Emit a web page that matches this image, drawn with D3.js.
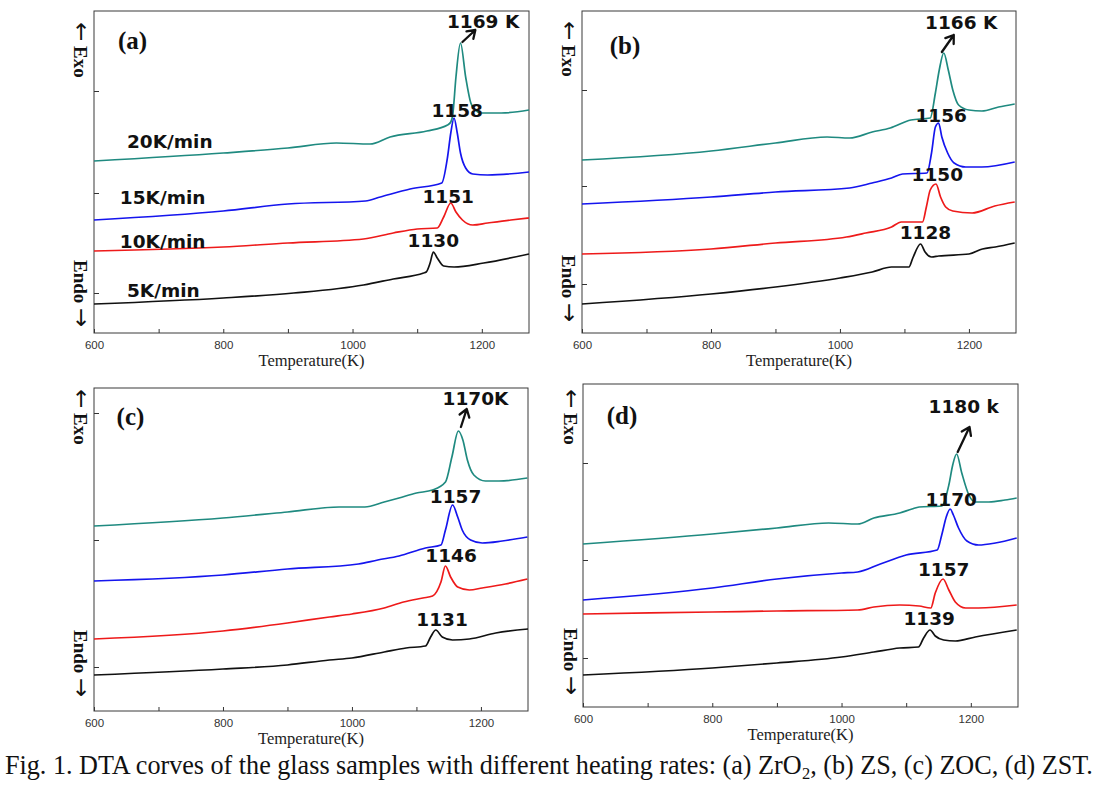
<!DOCTYPE html>
<html>
<head>
<meta charset="utf-8">
<script src="https://cdn.jsdelivr.net/npm/d3@7"></script>
<style>
  body { margin: 0; background: #fff; }
</style>
</head>
<body>
<div id="vizArea"></div>
<script>
// heating rates, bottom trace to top trace
var rates = ["5K/min", "10K/min", "15K/min", "20K/min"];
var xTicks = [600, 800, 1000, 1200];
var xMinor = [700, 900, 1100];

// DTA traces: [temperature (K), signal (a.u.)]
// (a) ZrO2
var a5  = [[600,2.9],[800,3.5],[909,4.0],[1017,4.8],[1063,5.4],[1110,6.0],[1114,6.1],[1120,7.0],[1125,8.1],[1131,7.5],[1141,6.7],[1157,6.6],[1203,7.0],[1273,7.9]];
var a10 = [[600,8.2],[800,8.6],[900,9.0],[1017,9.4],[1063,10.0],[1100,10.4],[1131,10.5],[1141,11.6],[1152,13.0],[1160,12.1],[1170,11.3],[1186,10.8],[1209,11.0],[1245,11.3],[1273,11.5]];
var a15 = [[600,11.3],[800,12.2],[900,12.9],[1020,13.2],[1043,13.6],[1089,14.4],[1138,15.0],[1147,17.6],[1152,20.0],[1157,21.5],[1162,20.0],[1167,18.0],[1175,16.5],[1186,15.9],[1209,15.8],[1273,16.1]];
var a20 = [[600,17.2],[800,18.0],[900,18.5],[975,19.0],[1027,18.9],[1058,19.6],[1115,20.2],[1147,20.8],[1152,21.1],[1155,21.8],[1160,25.6],[1167,29.0],[1175,25.6],[1183,23.0],[1190,22.3],[1198,22.0],[1230,22.0],[1273,22.3]];
// (b) ZS
var b5  = [[600,2.9],[800,3.9],[900,4.6],[1000,5.5],[1050,6.1],[1080,6.6],[1107,6.6],[1113,7.5],[1125,8.9],[1132,8.1],[1142,7.6],[1153,7.7],[1200,7.9],[1221,8.4],[1241,8.6],[1271,9.0]];
var b10 = [[600,7.9],[800,8.4],[900,9.0],[1010,9.6],[1040,10.0],[1080,10.6],[1095,11.1],[1128,11.1],[1134,12.6],[1140,14.3],[1149,14.9],[1156,13.6],[1164,12.6],[1175,12.2],[1205,12.0],[1240,12.7],[1271,13.1]];
var b15 = [[600,12.9],[800,13.6],[900,14.1],[1015,14.5],[1050,15.0],[1080,15.5],[1097,15.9],[1135,16.0],[1142,18.0],[1148,20.6],[1153,21.0],[1158,19.6],[1167,18.0],[1177,17.0],[1195,16.6],[1220,16.6],[1271,17.1]];
var b20 = [[600,17.3],[800,18.2],[900,19.0],[980,19.6],[1015,19.5],[1050,20.1],[1078,20.5],[1110,21.3],[1140,21.5],[1148,24.0],[1154,26.3],[1161,28.0],[1168,26.3],[1175,24.3],[1184,22.8],[1200,22.3],[1220,22.2],[1246,22.6],[1271,22.9]];
// (c) ZOC
var c5  = [[600,3.6],[800,4.2],[900,4.6],[965,5.1],[1000,5.3],[1050,5.9],[1084,6.3],[1114,6.5],[1122,7.4],[1130,8.1],[1140,7.4],[1156,7.1],[1182,7.2],[1223,7.8],[1273,8.2]];
var c10 = [[600,7.2],[800,8.0],[900,8.8],[965,9.4],[1000,9.7],[1050,10.3],[1080,10.9],[1110,11.3],[1125,11.5],[1138,12.9],[1145,14.5],[1153,13.4],[1164,12.4],[1182,12.1],[1202,12.3],[1238,12.7],[1272,13.2]];
var c15 = [[600,13.0],[800,13.6],[900,14.2],[1010,14.7],[1040,15.1],[1073,15.5],[1114,16.3],[1138,16.6],[1145,18.1],[1156,20.6],[1164,19.4],[1171,18.1],[1184,17.1],[1202,16.8],[1233,17.0],[1272,17.4]];
var c20 = [[600,18.5],[800,19.3],[900,19.9],[980,20.4],[1020,20.4],[1050,20.9],[1073,21.3],[1100,21.8],[1125,22.1],[1145,22.9],[1155,25.4],[1165,28.0],[1172,27.1],[1179,25.1],[1189,23.6],[1207,23.0],[1228,23.0],[1272,23.3]];
// (d) ZST
var d5  = [[600,3.2],[800,3.9],[900,4.4],[1000,5.0],[1050,5.5],[1090,5.9],[1119,6.0],[1127,6.9],[1137,7.7],[1145,7.1],[1158,6.7],[1176,6.6],[1207,7.0],[1271,7.7]];
var d10 = [[600,9.3],[800,9.5],[900,9.6],[1025,9.7],[1050,10.0],[1090,10.2],[1120,10.1],[1138,9.9],[1145,11.4],[1157,12.8],[1166,11.7],[1176,10.5],[1192,9.9],[1212,9.9],[1271,10.2]];
var d15 = [[600,10.7],[800,11.9],[900,12.8],[1000,13.4],[1025,13.5],[1060,14.3],[1100,15.2],[1148,15.7],[1155,17.2],[1162,19.0],[1168,19.8],[1173,19.2],[1181,17.9],[1194,16.6],[1212,16.2],[1238,16.4],[1271,16.9]];
var d20 = [[600,16.3],[800,17.3],[900,17.9],[980,18.4],[1025,18.3],[1050,18.9],[1090,19.4],[1109,19.8],[1120,20.0],[1155,20.1],[1166,22.2],[1172,24.2],[1178,25.3],[1186,23.4],[1197,21.2],[1207,20.5],[1228,20.5],[1253,20.7],[1271,20.9]];

// crystallization peak labels, 5 -> 20 K/min
var peaksA = ["1130", "1151", "1158", "1169 K"];
var peaksB = ["1128", "1150", "1156", "1166 K"];
var peaksC = ["1131", "1146", "1157", "1170K"];
var peaksD = ["1139", "1157", "1170", "1180 k"];

var colors = ["#111111", "#ee1a1a", "#1515ee", "#1f8a80"];

// layout: frame box, y ticks and label anchors (in data units)
var panels = [
  { tag: "(a)", box: [94, 11, 529, 333], yMax: 32.2, yTicks: [4.0, 14.0, 24.2],
    series: [a5, a10, a15, a20], peaks: peaksA,
    peakPos: [[1125, 8.6], [1148, 13.0], [1162, 21.6], [1202, 30.5]],
    arrow: [[1170, 29.1], [1190, 30.3]], tagPos: [637, 28.4],
    exoX: 74, exoY: 22, endoY: 260,
    ratePos: [[651, 3.6], [640, 8.5], [640, 12.9], [651, 18.5]] },
  { tag: "(b)", box: [582, 11, 1016, 333], yMax: 32.2, yTicks: [4.9, 14.7, 24.3],
    series: [b5, b10, b15, b20], peaks: peaksB,
    peakPos: [[1132.5, 9.4], [1151, 15.2], [1157, 21.1], [1188, 30.4]],
    arrow: [[1158, 28.1], [1176.5, 29.8]], tagPos: [643, 27.9],
    exoX: 562, exoY: 21, endoY: 255 },
  { tag: "(c)", box: [94, 388, 528, 711], yMax: 32.3, yTicks: [4.4, 17.1, 29.8],
    series: [c5, c10, c15, c20], peaks: peaksC,
    peakPos: [[1139.8, 8.5], [1153.7, 14.9], [1160.7, 20.8], [1191.6, 30.6]],
    arrow: [[1169, 28.4], [1178, 30.2]], tagPos: [635, 28.6],
    exoX: 74, exoY: 389, endoY: 630 },
  { tag: "(d)", box: [583, 384, 1018, 707], yMax: 32.3, yTicks: [4.9, 14.7, 24.4],
    series: [d5, d10, d15, d20], peaks: peaksD,
    peakPos: [[1135.7, 8.2], [1158, 13.1], [1169.7, 20.1], [1189, 29.4]],
    arrow: [[1179.7, 25.5], [1198, 28.0]], tagPos: [636.6, 28.3],
    exoX: 564, exoY: 389, endoY: 628 }
];

var svg = d3.select("#vizArea")
  .append("svg")
    .attr("width", 1100)
    .attr("height", 792)
    .style("display", "block");

svg.append("rect")
  .attr("width", 1100)
  .attr("height", 792)
  .attr("fill", "white");

panels.forEach(function (p) {
  var l = p.box[0], t = p.box[1], r = p.box[2], b = p.box[3];
  var x = d3.scaleLinear().domain([600, 1273]).range([l, r]);
  var y = d3.scaleLinear().domain([0, p.yMax]).range([b, t]);
  var g = svg.append("g");

  // axes, ticks pointing inward
  var xa = g.append("g").attr("transform", "translate(0," + b + ")")
    .call(d3.axisBottom(x).tickValues(xTicks).tickSize(-4).tickPadding(8).tickFormat(d3.format("d")));
  var xm = g.append("g").attr("transform", "translate(0," + b + ")")
    .call(d3.axisBottom(x).tickValues(xMinor).tickSize(-4).tickFormat(""));
  var ya = g.append("g").attr("transform", "translate(" + l + ",0)")
    .call(d3.axisLeft(y).tickValues(p.yTicks).tickSize(-5).tickFormat(""));
  [xa, xm, ya].forEach(function (a) {
    a.select(".domain").remove();
    a.selectAll("line").attr("stroke", "#333");
  });
  xa.selectAll("text")
    .attr("font-family", "Liberation Sans, Arial, sans-serif")
    .attr("font-size", 11.5)
    .attr("fill", "#333");

  g.append("rect")
    .attr("x", l).attr("y", t)
    .attr("width", r - l).attr("height", b - t)
    .attr("fill", "none")
    .attr("stroke", "#3a3a3a")
    .attr("stroke-width", 1);

  g.append("text")
    .attr("x", (l + r) / 2).attr("y", b + 33)
    .attr("text-anchor", "middle")
    .attr("font-family", "Liberation Serif, Times New Roman, serif")
    .attr("font-size", 16.5)
    .attr("fill", "#222")
    .text("Temperature(K)");

  // traces
  var line = d3.line()
    .x(function (d) { return x(d[0]); })
    .y(function (d) { return y(d[1]); })
    .curve(d3.curveMonotoneX);
  p.series.forEach(function (s, i) {
    g.append("path")
      .datum(s)
      .attr("d", line)
      .attr("fill", "none")
      .attr("stroke", colors[i])
      .attr("stroke-width", 1.7)
      .attr("stroke-linejoin", "round");
  });

  // peak temperatures
  p.peaks.forEach(function (txt, i) {
    g.append("text")
      .attr("x", x(p.peakPos[i][0])).attr("y", y(p.peakPos[i][1]))
      .attr("text-anchor", "middle")
      .attr("font-family", "DejaVu Sans, Verdana, sans-serif")
      .attr("font-weight", "bold")
      .attr("font-size", 18.5)
      .attr("fill", "#111")
      .text(txt);
  });

  // arrow pointing at the top label
  var x0 = x(p.arrow[0][0]), y0 = y(p.arrow[0][1]);
  var x1 = x(p.arrow[1][0]), y1 = y(p.arrow[1][1]);
  var ang = Math.atan2(y1 - y0, x1 - x0);
  var hl = 9, hw = 0.6;
  g.append("path")
    .attr("d", "M" + x0 + "," + y0 + "L" + x1 + "," + y1 +
      "M" + (x1 - hl * Math.cos(ang - hw)) + "," + (y1 - hl * Math.sin(ang - hw)) +
      "L" + x1 + "," + y1 +
      "L" + (x1 - hl * Math.cos(ang + hw)) + "," + (y1 - hl * Math.sin(ang + hw)))
    .attr("fill", "none")
    .attr("stroke", "#111")
    .attr("stroke-width", 2.3)
    .attr("stroke-linecap", "round")
    .attr("stroke-linejoin", "round");

  // panel tag
  g.append("text")
    .attr("x", x(p.tagPos[0])).attr("y", y(p.tagPos[1]))
    .attr("font-family", "Liberation Serif, Times New Roman, serif")
    .attr("font-weight", "bold")
    .attr("font-size", 25)
    .attr("fill", "#111")
    .text(p.tag);

  // Exo / Endo, rotated so the arrows point up and down
  var exo = g.append("text")
    .attr("transform", "translate(" + p.exoX + "," + p.exoY + ") rotate(90)")
    .attr("font-family", "Liberation Serif, Times New Roman, serif")
    .attr("font-weight", "bold")
    .attr("font-size", 19)
    .attr("fill", "#111");
  exo.append("tspan").attr("font-family", "DejaVu Sans").attr("font-weight", "normal")
    .attr("font-size", 23).text("\u2190");
  exo.append("tspan").text(" Exo");

  var endo = g.append("text")
    .attr("transform", "translate(" + p.exoX + "," + p.endoY + ") rotate(90)")
    .attr("font-family", "Liberation Serif, Times New Roman, serif")
    .attr("font-weight", "bold")
    .attr("font-size", 19)
    .attr("fill", "#111");
  endo.append("tspan").text("Endo ");
  endo.append("tspan").attr("font-family", "DejaVu Sans").attr("font-weight", "normal")
    .attr("font-size", 23).text("\u2192");

  // heating-rate labels
  if (p.ratePos) {
    rates.forEach(function (rt, i) {
      g.append("text")
        .attr("x", x(p.ratePos[i][0])).attr("y", y(p.ratePos[i][1]))
        .attr("font-family", "DejaVu Sans, Verdana, sans-serif")
        .attr("font-weight", "bold")
        .attr("font-size", 18.5)
        .attr("fill", "#111")
        .text(rt);
    });
  }
});

// caption, pieces laid out side by side then squeezed to the page width
var capParts = [
  ["Fig. 1. DTA corves of the glass samples with different heating rates: (a) ZrO", 27, 0],
  ["2", 17, 5],
  [", (b) ZS, (c) ZOC, (d) ZST.", 27, 0]
];
var capG = svg.append("g");
var cx = 0;
capParts.forEach(function (c) {
  var node = capG.append("text")
    .attr("x", cx).attr("y", c[2])
    .attr("font-family", "Liberation Serif, Times New Roman, serif")
    .attr("font-size", c[1])
    .attr("fill", "#111")
    .text(c[0]);
  cx += node.node().getComputedTextLength();
});
capG.attr("transform", "translate(5,774) scale(" + (1088 / cx) + ",1)");
</script>
</body>
</html>
